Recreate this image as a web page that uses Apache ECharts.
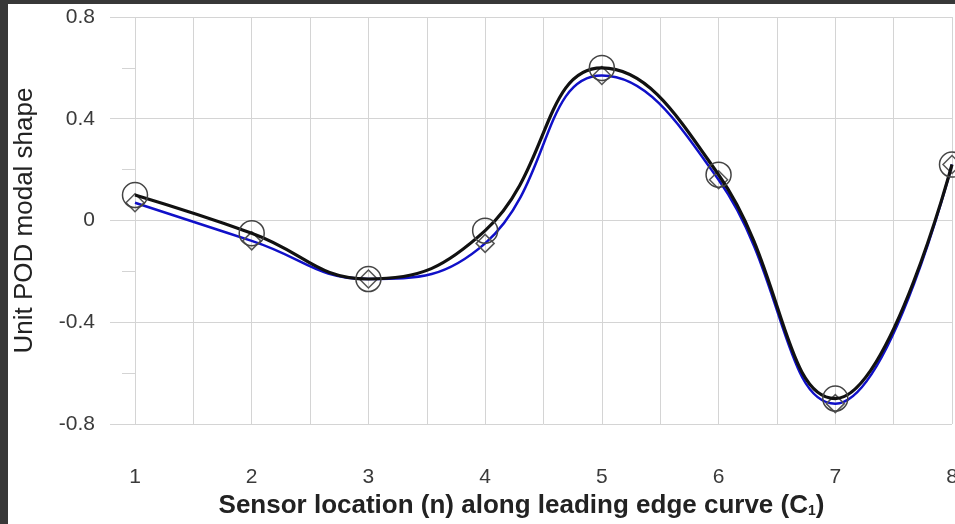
<!DOCTYPE html>
<html>
<head>
<meta charset="utf-8">
<script src="https://cdn.jsdelivr.net/npm/echarts@6/dist/echarts.min.js"></script>
<style>
  html, body { margin: 0; padding: 0; background: #383838; width: 955px; height: 524px; overflow: hidden; }
  #chart { position: absolute; left: 8px; top: 4px; width: 947px; height: 520px; background: #fff; }
</style>
</head>
<body>
<div id="chart"></div>
<script>
// sensor positions along the leading edge curve
var sensors = [1, 2, 3, 4, 5, 6, 7, 8];
// unit POD modal shape, two estimates (circles / black, diamonds / blue)
var shapeCircle = [0.10, -0.05, -0.23, -0.04, 0.60, 0.18, -0.70, 0.22];
var shapeDiamond = [0.07, -0.08, -0.23, -0.09, 0.57, 0.16, -0.72, 0.22];

var chart = echarts.init(document.getElementById('chart'));

function pairs(ys) {
  return sensors.map(function (x, i) { return [x, ys[i]]; });
}

var gridCol = '#d4d4d4';

var option = {
  animation: false,
  grid: { left: 127, right: 3, top: 13, bottom: 100, outerBoundsMode: 'none', containLabel: false },
  xAxis: {
    type: 'value',
    min: 1, max: 8, interval: 1,
    name: '{b|Sensor location (n) along leading edge curve (C}{s|1}{b|)}',
    nameLocation: 'middle',
    nameGap: 59,
    nameTextStyle: {
      padding: [0, 44, 0, 0],
      rich: {
        b: { fontFamily: 'Liberation Sans', fontWeight: 'bold', fontSize: 26, color: '#222' },
        s: { fontFamily: 'Liberation Sans', fontWeight: 'bold', fontSize: 14, color: '#222', padding: [11, 0, 0, 0] }
      }
    },
    axisLine: { show: false },
    axisTick: { show: true, length: 18, lineStyle: { color: gridCol } },
    minorTick: { show: true, splitNumber: 2, length: 10, lineStyle: { color: gridCol } },
    splitLine: { show: true, lineStyle: { color: gridCol, width: 1 } },
    minorSplitLine: { show: true, lineStyle: { color: gridCol, width: 1 } },
    axisLabel: { margin: 43, fontFamily: 'Liberation Sans', fontSize: 21, color: '#3a3a3a' }
  },
  yAxis: {
    type: 'value',
    min: -0.8, max: 0.8, interval: 0.4,
    name: 'Unit POD modal shape',
    nameLocation: 'middle',
    nameGap: 97,
    nameTextStyle: { fontFamily: 'Liberation Sans', fontSize: 26, color: '#222' },
    axisLine: { show: false },
    axisTick: { show: true, length: 25, lineStyle: { color: gridCol } },
    minorTick: { show: true, splitNumber: 2, length: 13, lineStyle: { color: gridCol } },
    splitLine: { show: true, lineStyle: { color: gridCol, width: 1 } },
    axisLabel: { margin: 40, fontFamily: 'Liberation Sans', fontSize: 21, color: '#3a3a3a' }
  },
  series: [
    {
      type: 'line',
      data: pairs(shapeDiamond),
      smooth: 0.45,
      symbol: 'diamond',
      symbolSize: 18,
      lineStyle: { color: '#1010c8', width: 2.5 },
      itemStyle: { color: 'rgba(0,0,0,0)', borderColor: '#555', borderWidth: 1.5 },
      z: 2
    },
    {
      type: 'line',
      data: pairs(shapeCircle),
      smooth: 0.45,
      symbol: 'circle',
      symbolSize: 25,
      lineStyle: { color: '#111', width: 3.2 },
      itemStyle: { color: 'rgba(0,0,0,0)', borderColor: '#444', borderWidth: 1.5 },
      z: 3
    }
  ]
};

chart.setOption(option);
</script>
</body>
</html>
